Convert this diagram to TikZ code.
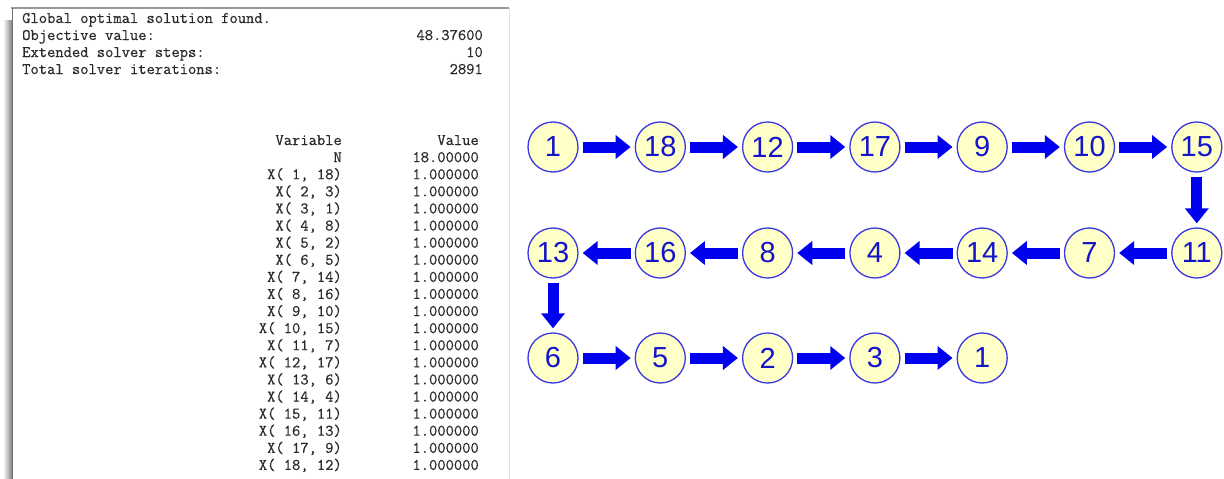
\documentclass[tikz,border=0pt]{standalone}
\usepackage{fontspec}
\setmainfont{Liberation Sans}
\setmonofont{Latin Modern Mono}[FakeBold=0.5]
\usetikzlibrary{arrows.meta}
\definecolor{txtgray}{HTML}{2A2A2A}
\definecolor{nodefill}{HTML}{FFFFC8}
\definecolor{nodeline}{HTML}{3838E0}
\definecolor{nodetext}{HTML}{1414C8}
\definecolor{arrblue}{HTML}{0000F0}
\tikzset{
  mono/.style={inner sep=0pt, text=txtgray, font=\ttfamily\bfseries\fontsize{16.1}{17}\selectfont},
  city/.style={circle, draw=nodeline, line width=1.3pt, fill=nodefill, minimum size=50pt, inner sep=0pt, text=nodetext, font=\fontsize{29}{29}\selectfont},
  arr/.style={draw=arrblue, line width=11pt, -{Triangle[length=15pt,width=23pt]}, shorten <=4pt, shorten >=4pt}
}
\begin{document}
\begin{tikzpicture}[x=1pt,y=-1pt]
\useasboundingbox (0,0) rectangle (1224,479);
\fill[white] (0,0) rectangle (1224,479);
% left panel
\shade[left color=white, right color=black!50] (3,20) rectangle (12,479);
\draw[black!40, line width=2pt] (11,8) -- (509,8);
\draw[black!12, line width=1pt] (509,8) -- (509,479);
\draw[black!55, line width=1pt] (12,8) -- (12,479);
% header lines
\node[mono, anchor=base west] (h1) at (22,23) {Global optimal solution found.};
\node[mono, anchor=base west] (h2) at (22,40) {Objective value:};
\node[mono, anchor=base west] (h3) at (22,57) {Extended solver steps:};
\node[mono, anchor=base west] (h4) at (22,74) {Total solver iterations:};
\node[mono, anchor=base east] (g2) at (483,40) {48.37600};
\node[mono, anchor=base east] (g3) at (483,57) {10};
\node[mono, anchor=base east] (g4) at (483,74) {2891};
% table
\foreach \name/\val [count=\k from 0] in {Variable/Value, N/18.00000,
  {X( 1, 18)}/1.000000, {X( 2, 3)}/1.000000, {X( 3, 1)}/1.000000,
  {X( 4, 8)}/1.000000, {X( 5, 2)}/1.000000, {X( 6, 5)}/1.000000,
  {X( 7, 14)}/1.000000, {X( 8, 16)}/1.000000, {X( 9, 10)}/1.000000,
  {X( 10, 15)}/1.000000, {X( 11, 7)}/1.000000, {X( 12, 17)}/1.000000,
  {X( 13, 6)}/1.000000, {X( 14, 4)}/1.000000, {X( 15, 11)}/1.000000,
  {X( 16, 13)}/1.000000, {X( 17, 9)}/1.000000, {X( 18, 12)}/1.000000}{
  \node[mono, anchor=base east] (var\k) at (342,145+17.1*\k) {\name};
  \node[mono, anchor=base east] (val\k) at (479,145+17.1*\k) {\val};
}
% tour nodes
\node[city] (a1)  at (553,147) {1};
\node[city] (a18) at (660.3,147) {18};
\node[city] (a12) at (767.6,147) {12};
\node[city] (a17) at (874.9,147) {17};
\node[city] (a9)  at (982.2,147) {9};
\node[city] (a10) at (1089.5,147) {10};
\node[city] (a15) at (1196.8,147) {15};
\node[city] (b13) at (553,253) {13};
\node[city] (b16) at (660.3,253) {16};
\node[city] (b8)  at (767.6,253) {8};
\node[city] (b4)  at (874.9,253) {4};
\node[city] (b14) at (982.2,253) {14};
\node[city] (b7)  at (1089.5,253) {7};
\node[city] (b11) at (1196.8,253) {11};
\node[city] (c6)  at (553,358) {6};
\node[city] (c5)  at (660.3,358) {5};
\node[city] (c2)  at (767.6,358) {2};
\node[city] (c3)  at (874.9,358) {3};
\node[city] (c1)  at (982.2,358) {1};
% arrows
\draw[arr] (a1) -- (a18);
\draw[arr] (a18) -- (a12);
\draw[arr] (a12) -- (a17);
\draw[arr] (a17) -- (a9);
\draw[arr] (a9) -- (a10);
\draw[arr] (a10) -- (a15);
\draw[arr] (a15) -- (b11);
\draw[arr] (b11) -- (b7);
\draw[arr] (b7) -- (b14);
\draw[arr] (b14) -- (b4);
\draw[arr] (b4) -- (b8);
\draw[arr] (b8) -- (b16);
\draw[arr] (b16) -- (b13);
\draw[arr] (b13) -- (c6);
\draw[arr] (c6) -- (c5);
\draw[arr] (c5) -- (c2);
\draw[arr] (c2) -- (c3);
\draw[arr] (c3) -- (c1);
\end{tikzpicture}
\end{document}
